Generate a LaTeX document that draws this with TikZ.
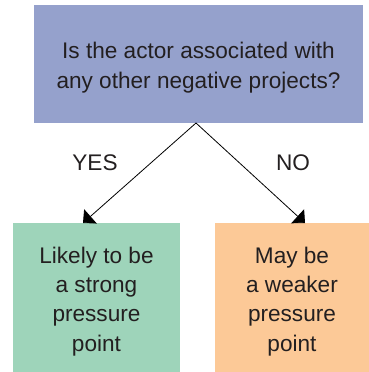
\documentclass[tikz,border=0pt]{standalone}
\usepackage{fontspec}
\setmainfont{Liberation Sans}
\usetikzlibrary{arrows.meta}
\definecolor{topc}{RGB}{149,161,204}
\definecolor{greenc}{RGB}{158,212,186}
\definecolor{orangec}{RGB}{252,201,151}
\definecolor{txt}{RGB}{35,31,32}
\begin{document}
\begin{tikzpicture}[x=1pt,y=-1pt,
  box/.style={rectangle, inner sep=0pt, outer sep=0pt},
  boxtext/.style={inner sep=0pt, align=center, text=txt, font=\fontsize{22.6}{30}\selectfont},
  lowtext/.style={boxtext, font=\fontsize{22.6}{29.2}\selectfont},
  lbl/.style={text=txt, font=\fontsize{22.6}{30}\selectfont},
  conn/.style={line width=0.8pt, -{Triangle[length=10pt,width=19pt]}}]
\useasboundingbox (0,0) rectangle (369,372);
\node[box, fill=topc, minimum width=329pt, minimum height=118pt] (top) at (198.5,64) {};
\node[box, fill=greenc, minimum width=167pt, minimum height=149pt] (lbox) at (96.5,297.5) {};
\node[box, fill=orangec, minimum width=154pt, minimum height=149pt] (rbox) at (292,297.5) {};
\node[boxtext] (toptext) at ([yshift=-4pt]top.center)
  {Is the actor associated with\\any other negative projects?};
\node[lowtext] (ltext) at ([yshift=-4pt]lbox.center)
  {Likely to be\\a strong\\pressure\\point};
\node[lowtext] (rtext) at ([yshift=-4pt]rbox.center)
  {May be\\a weaker\\pressure\\point};
\coordinate (apex) at (196,123);
\draw[conn] (apex) -- ([xshift=-13.5pt]lbox.north);
\draw[conn] (apex) -- ([xshift=13pt]rbox.north);
\node[lbl] (yes) at (95,163) {YES};
\node[lbl] (no) at (293,163) {NO};
\end{tikzpicture}
\end{document}
